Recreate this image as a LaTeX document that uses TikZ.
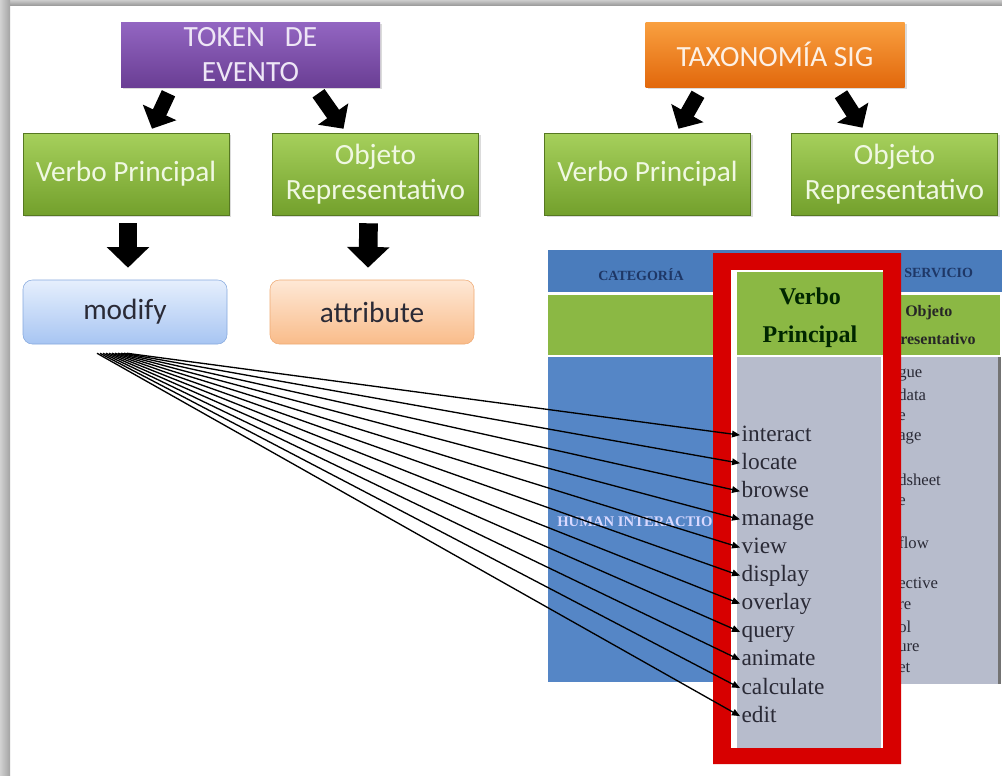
\documentclass[tikz,border=0pt]{standalone}
\usepackage{fontspec}
\setmainfont{Liberation Serif}
\newfontfamily\calib{Carlito}
\usetikzlibrary{arrows.meta,shadows,calc}

\definecolor{purpT}{HTML}{9366C2}
\definecolor{purpB}{HTML}{6A3E94}
\definecolor{purpText}{HTML}{EEE6F6}
\definecolor{oranT}{HTML}{F9A040}
\definecolor{oranB}{HTML}{E2680C}
\definecolor{oranText}{HTML}{FDF0E4}
\definecolor{grnT}{HTML}{A6D05C}
\definecolor{grnB}{HTML}{73A02C}
\definecolor{grnText}{HTML}{F0F8E2}
\definecolor{bluT}{HTML}{E6EFFD}
\definecolor{bluB}{HTML}{A7C5F2}
\definecolor{bluD}{HTML}{86A9DE}
\definecolor{pchT}{HTML}{FEE8D6}
\definecolor{pchB}{HTML}{F9BC8A}
\definecolor{pchD}{HTML}{EFAA74}
\definecolor{tblHead}{HTML}{4A7CBC}
\definecolor{tblBody}{HTML}{5586C6}
\definecolor{tblGreen}{HTML}{8BB844}
\definecolor{tblGrey}{HTML}{B7BCCC}
\definecolor{tblNavy}{HTML}{1E3766}
\definecolor{frameRed}{HTML}{D70000}
\definecolor{inkDark}{HTML}{2A2A36}

\begin{document}
\begin{tikzpicture}[x=0.75pt,y=-0.75pt,
  boxtext/.style={font=\calib\fontsize{22}{26}\selectfont, align=center, inner sep=0pt},
  flatbox/.style={boxtext, minimum height=82*0.75pt, draw=#1!75!black, line width=0.4pt,
    drop shadow={opacity=0.28, shadow xshift=1.5pt, shadow yshift=-1.5pt}},
  headbox/.style={boxtext, minimum width=259*0.75pt, minimum height=65*0.75pt,
    drop shadow={opacity=0.28, shadow xshift=1.5pt, shadow yshift=-1.5pt}},
  greenbox/.style={flatbox=grnB, top color=grnT, bottom color=grnB, text=grnText,
    minimum width=206*0.75pt},
  roundbox/.style={boxtext, rounded corners=7pt, minimum width=204*0.75pt,
    minimum height=64*0.75pt, text=inkDark},
  fat/.style={line width=11pt, -{Triangle[length=13.5pt,width=27pt]}},
  bigfat/.style={line width=14pt, -{Triangle[length=15.5pt,width=31pt]}},
  word/.style={font=\fontsize{17.5}{20}\selectfont, text=inkDark, anchor=west,
    inner sep=1pt, text height=13pt, text depth=4pt},
  frag/.style={font=\fontsize{12.5}{14}\selectfont, text=inkDark, anchor=west, inner sep=0pt},
  fan/.style={line width=1pt, -{Triangle[length=6pt,width=5pt]}}
]
\useasboundingbox (0,0) rectangle (1002,775);
\fill[white] (0,0) rectangle (1002,775);

% inner shadow along the top and left edges
\shade[top color=black!20, bottom color=black!38] (0,0) rectangle (1002,5);
\shade[left color=black!18, right color=black!36] (0,0) rectangle (10,775);

% ---------------- left hierarchy ----------------
\node[headbox, top color=purpT, bottom color=purpB, text=purpText] (token) at (250.5,54.5)
  {TOKEN\ \ \ DE\\EVENTO};
\node[greenbox] (vpa) at (126,174) {Verbo Principal};
\node[greenbox] (vpb) at (375.5,174) {Objeto\\Representativo};
\node[roundbox, draw=bluD, top color=bluT, bottom color=bluB] (modify) at (125,312) {modify};
\node[roundbox, draw=pchD, top color=pchT, bottom color=pchB] (attr) at (372,312) {attribute};

\draw[fat] ($(token.south)+(-82,6)$) -- ($(vpa.north)+(26,-4)$);
\draw[fat] ($(token.south)+(68,6)$) -- ($(vpb.north)+(-32,-4)$);
\draw[bigfat] ($(vpa.south)+(2,8)$) -- ($(modify.north)+(3,-12)$);
\draw[bigfat] ($(vpb.south)+(-7,8)$) -- ($(attr.north)+(-4,-12)$);

% ---------------- right hierarchy ----------------
\node[headbox, top color=oranT, bottom color=oranB, text=oranText] (tax) at (775,54.5) {TAXONOMÍA SIG};
\node[greenbox] (vpc) at (647.5,174) {Verbo Principal};
\node[greenbox] (vpd) at (894.5,174) {Objeto\\Representativo};

\draw[fat] ($(tax.south)+(-77,7)$) -- ($(vpc.north)+(31,-4)$);
\draw[fat] ($(tax.south)+(66,7)$) -- ($(vpd.north)+(-32,-5)$);

% ---------------- taxonomy table ----------------
\fill[tblHead] (548,250) rectangle (1002,292);
\fill[tblGreen] (548,295) rectangle (1000,355);
\fill[tblBody] (548,357) rectangle (740,682);
\fill[tblGrey] (880,357) rectangle (998,684);
\fill[black!55] (998,357) rectangle (1001,684);

\node[font=\bfseries\fontsize{10.5}{12}\selectfont, text=tblNavy] (cat) at (641,275) {CATEGORÍA};
\node[font=\bfseries\fontsize{10.5}{12}\selectfont, text=tblNavy, anchor=west, inner sep=0pt]
  (serv) at (904,273) {SERVICIO};
\node[font=\bfseries\fontsize{12}{14}\selectfont, text=black!85, anchor=west, inner sep=0pt]
  (obj) at (905,313) {Objeto};
\node[font=\bfseries\fontsize{12}{14}\selectfont, text=black!85, anchor=west, inner sep=0pt]
  (repr) at (900,339) {resentativo};
\node[font=\bfseries\fontsize{11}{12}\selectfont, text=white!85!blue, anchor=west, inner sep=0pt]
  (human) at (557,522) {HUMAN INTERACTIO};

\foreach \t/\yy [count=\k] in {gue/375, data/395, e/417, age/438, dsheet/480, e/502,
    flow/543, ective/583, re/606, ol/627, ure/648, et/668}
  \node[frag] (f\k) at (898,\yy) {\t};

% red highlight frame around the verb column
\fill[frameRed, even odd rule] (713,253) rectangle (901,764) (731,270) rectangle (883,748);
\fill[white] (731,270) rectangle (883,748);
\fill[tblGreen] (737,272) rectangle (883,355);
\fill[tblGrey] (737,357) rectangle (881,748);
\node[font=\bfseries\fontsize{18}{20}\selectfont, text=black!85!green] (vh1) at (810,296) {Verbo};
\node[font=\bfseries\fontsize{18}{20}\selectfont, text=black!85!green] (vh2) at (810,337) {Principal};

\foreach \w [count=\i] in {interact,locate,browse,manage,view,display,overlay,query,animate,calculate,edit}
  \node[word] (w\i) at (740,{407+28.1*\i}) {\w};

% fan of links from "modify" to every verb
\foreach \i in {1,...,11} {
  \coordinate (m\i) at ($(modify.south)+({2-3*(\i-1)},9)$);
  \draw[fan] (m\i) -- (w\i.west);
}
\end{tikzpicture}
\end{document}
